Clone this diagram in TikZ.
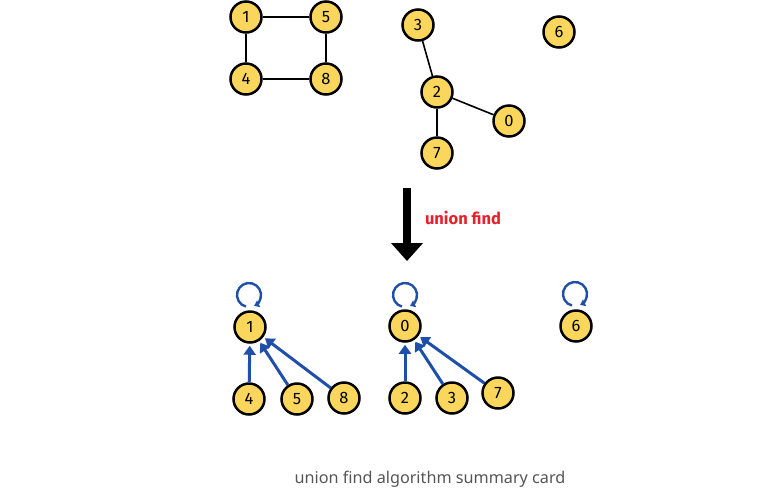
\documentclass[tikz,border=0pt]{standalone}
\usepackage{fontspec}
\setmainfont{Fira Sans}
\newfontfamily\capfont{Noto Sans}
\usetikzlibrary{arrows.meta}
\definecolor{nodeyellow}{HTML}{FAD65C}
\definecolor{linkblue}{HTML}{1F4FA8}
\definecolor{labelred}{HTML}{E8202A}
\definecolor{capgray}{HTML}{555555}
\tikzset{
  vtx/.style={circle, draw=black, line width=2.5pt, fill=nodeyellow, minimum size=31pt, inner sep=0pt, font=\fontsize{16.5}{16.5}\selectfont},
  edgeline/.style={draw=black, line width=1.6pt},
  parentarrow/.style={draw=linkblue, line width=3pt, shorten >=2pt, -{Triangle[length=9pt,width=12pt]}},
  selfloop/.style={draw=linkblue, line width=2.4pt, -{Triangle[length=5pt,width=7pt]}},
}
\begin{document}
\begin{tikzpicture}[x=1pt,y=-1pt]
\useasboundingbox (0,0) rectangle (771,499);
% top graph
\node[vtx] (t1) at (246,17) {1};
\node[vtx] (t5) at (326,17) {5};
\node[vtx] (t4) at (246,79) {4};
\node[vtx] (t8) at (326,79) {8};
\node[vtx] (t3) at (418,25) {3};
\node[vtx] (t6) at (559,32) {6};
\node[vtx] (t2) at (437,92) {2};
\node[vtx] (t0) at (509,121) {0};
\node[vtx] (t7) at (437,153) {7};
\draw[edgeline] (t1) -- (t5);
\draw[edgeline] (t1) -- (t4);
\draw[edgeline] (t5) -- (t8);
\draw[edgeline] (t4) -- (t8);
\draw[edgeline] (t3) -- (t2);
\draw[edgeline] (t2) -- (t0);
\draw[edgeline] (t2) -- (t7);
% big arrow
\coordinate (arrtop) at (407,188);
\coordinate (arrtip) at (407,261);
\draw[line width=8.5pt, -{Triangle[length=18pt,width=31pt]}] (arrtop) -- (arrtip);
\node[font=\bfseries\fontsize{16.5}{16.5}\selectfont, text=labelred] (uf) at (463,218) {union find};
% bottom forest
\node[vtx] (b1) at (250,327) {1};
\node[vtx] (b4) at (249,399) {4};
\node[vtx] (b5) at (297,399) {5};
\node[vtx] (b8) at (344,398) {8};
\node[vtx] (b0) at (405,326) {0};
\node[vtx] (b2) at (405,398) {2};
\node[vtx] (b3) at (452,398) {3};
\node[vtx] (b7) at (498,393) {7};
\node[vtx] (b6) at (576,326) {6};
\draw[parentarrow] (b4) -- (b1);
\draw[parentarrow] (b5) -- (b1);
\draw[parentarrow] (b8) -- (b1);
\draw[parentarrow] (b2) -- (b0);
\draw[parentarrow] (b3) -- (b0);
\draw[parentarrow] (b7) -- (b0);
\draw[selfloop] ([shift={(-1,-32)}]b1.center) ++(105:12) arc[start angle=105, end angle=425, radius=12];
\draw[selfloop] ([shift={(0,-31)}]b0.center) ++(105:12) arc[start angle=105, end angle=425, radius=12];
\draw[selfloop] ([shift={(-1,-32)}]b6.center) ++(105:12) arc[start angle=105, end angle=425, radius=12];
% caption
\node[font=\capfont\fontsize{16.2}{16.2}\selectfont, text=capgray] (cap) at (430,479) {union find algorithm summary card};
\end{tikzpicture}
\end{document}
